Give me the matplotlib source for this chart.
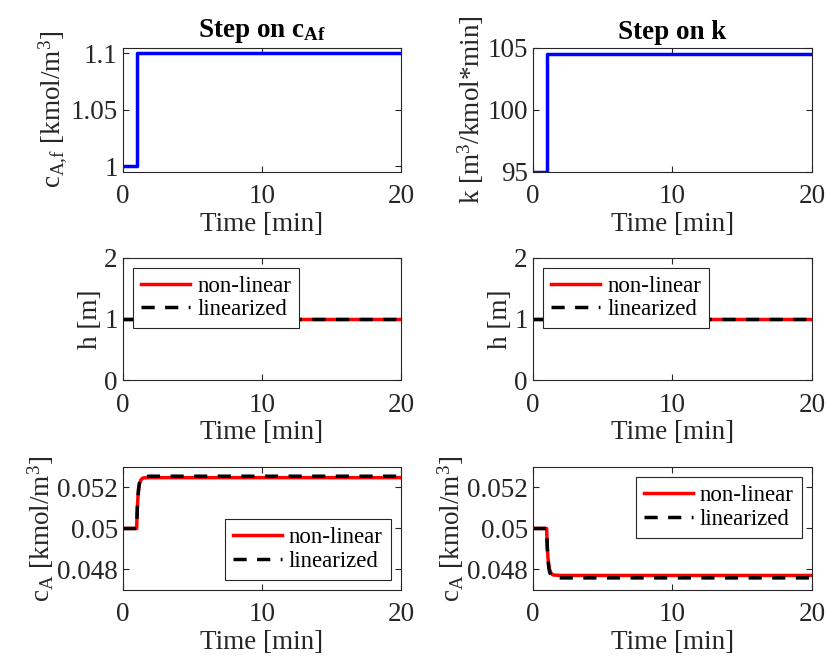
import numpy as np
import matplotlib
matplotlib.use("Agg")
import matplotlib.pyplot as plt
import matplotlib.ticker as mticker

plt.rcParams["font.family"] = ["Liberation Serif", "DejaVu Serif"]
plt.rcParams["mathtext.fontset"] = "custom"
plt.rcParams["mathtext.rm"] = "Liberation Serif"
plt.rcParams["mathtext.bf"] = "Liberation Serif:bold"
plt.rcParams["mathtext.it"] = "Liberation Serif:italic"
plt.rcParams["mathtext.default"] = "regular"

FS = 19.5
FS_LEG = 16.5
TXT = "#262626"
DASH = (3.8, 3.0)

# --- Daten ---
t_step = [0, 1, 1, 20]
caf_in = [1.0, 1.0, 1.1, 1.1]
k_in = [95, 95, 104.5, 104.5]

t_h = [0, 20]
h_nl = [1, 1]
h_lin = [1, 1]

t_ca = [0, 1.0, 1.05, 1.1, 1.15, 1.2, 1.3, 1.4, 1.5, 2, 20]
ca_nl_caf = [0.05, 0.05, 0.05098, 0.05158, 0.05195, 0.05216, 0.05236, 0.05244, 0.05247, 0.05248, 0.05248]
ca_lin_caf = [0.05, 0.05, 0.05100, 0.05161, 0.05199, 0.05221, 0.05242, 0.05250, 0.05253, 0.05255, 0.05255]
ca_nl_k = [0.05, 0.05, 0.04910, 0.04855, 0.04823, 0.04803, 0.04784, 0.04776, 0.04773, 0.04771, 0.04771]
ca_lin_k = [0.05, 0.05, 0.04905, 0.04847, 0.04812, 0.04791, 0.04772, 0.04764, 0.04761, 0.04759, 0.04759]

# Achsenpositionen in Figur-Koordinaten
cols = [(0.1482, 0.3361), (0.6433, 0.3373)]
rows = [(0.7387, 0.1887), (0.4216, 0.1862), (0.1020, 0.1872)]

fig = plt.figure(figsize=(8.28, 6.57), dpi=100)
axes = [[fig.add_axes([c[0], r[0], c[1], r[1]]) for c in cols] for r in rows]

fmt = mticker.FuncFormatter(lambda v, p: f"{v:g}")


def style(ax, ylim, yticks, ylabel):
    ax.set_xlim(0, 20)
    ax.set_xticks([0, 10, 20])
    ax.set_ylim(*ylim)
    ax.set_yticks(yticks)
    ax.yaxis.set_major_formatter(fmt)
    ax.tick_params(direction="in", top=True, right=True, length=4,
                   labelsize=FS, colors=TXT, width=0.8)
    ax.tick_params(axis="x", pad=9)
    for s in ax.spines.values():
        s.set_color(TXT)
        s.set_linewidth(0.8)
    ax.set_xlabel("Time [min]", fontsize=FS, color=TXT, labelpad=2)
    ax.set_ylabel(ylabel, fontsize=FS, color=TXT, labelpad=1)


def leg(ax, loc):
    lg = ax.legend(loc=loc, fontsize=FS_LEG, fancybox=False, framealpha=1,
                   edgecolor=TXT, handlelength=2.15, borderpad=0.35,
                   labelspacing=0.1, handletextpad=0.3, borderaxespad=0.45)
    lg.get_frame().set_linewidth(0.8)


# Zeile 1: Eingangssprünge
ax = axes[0][0]
ax.plot(t_step, caf_in, color="#0000ff", lw=2.5)
style(ax, (0.995, 1.105), [1, 1.05, 1.1], r"c$_{A{,}f}$ [kmol/m$^3$]")
ax.set_title(r"Step on c$_{\mathbf{Af}}$", fontsize=FS, fontweight="bold", pad=8)

ax = axes[0][1]
ax.plot(t_step, k_in, color="#0000ff", lw=2.5)
style(ax, (95, 105), [95, 100, 105], r"k [m$^3$/kmol*min]")
ax.set_title("Step on k", fontsize=FS, fontweight="bold", pad=6)

# Zeile 2: Füllstand h
for ax in axes[1]:
    ax.plot(t_h, h_nl, color="#ff0000", lw=2.5, label="non-linear")
    ax.plot(t_h, h_lin, color="black", lw=2.5, dashes=DASH, label="linearized")
    style(ax, (0, 2), [0, 1, 2], "h [m]")
    leg(ax, "upper left")

# Zeile 3: Konzentration c_A
for ax, nl, lin, loc in [
    (axes[2][0], ca_nl_caf, ca_lin_caf, "lower right"),
    (axes[2][1], ca_nl_k, ca_lin_k, "upper right"),
]:
    ax.plot(t_ca, nl, color="#ff0000", lw=2.5, label="non-linear")
    ax.plot(t_ca, lin, color="black", lw=2.5, dashes=DASH, label="linearized")
    style(ax, (0.047, 0.053), [0.048, 0.05, 0.052], r"c$_A$ [kmol/m$^3$]")
    leg(ax, loc)

fig.savefig("out.png", dpi=100)
